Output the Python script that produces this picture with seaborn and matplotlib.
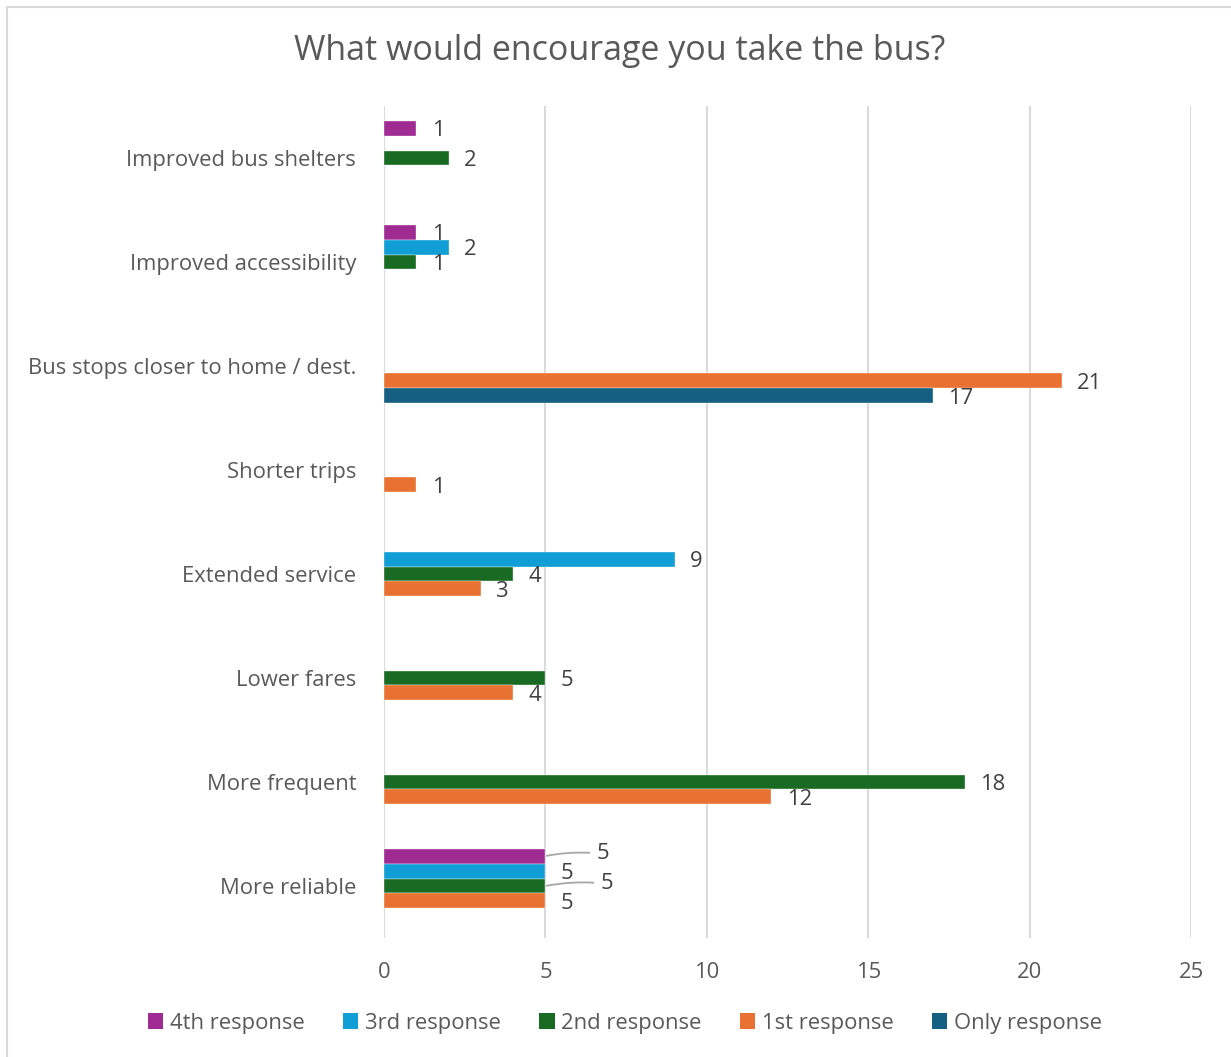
import matplotlib
matplotlib.use("Agg")
import matplotlib.pyplot as plt
from matplotlib.patches import Patch
from matplotlib.lines import Line2D
import seaborn as sns
import pandas as pd
import numpy as np

categories = ["Improved bus shelters", "Improved accessibility",
              "Bus stops closer to home / dest.", "Shorter trips",
              "Extended service", "Lower fares", "More frequent", "More reliable"]
series = ["4th response", "3rd response", "2nd response", "1st response", "Only response"]
colors = ["#A02B93", "#0F9ED5", "#196B24", "#E97132", "#156082"]

# values per series, aligned with categories (None = no bar)
v4th  = [1, 1, None, None, None, None, None, 5]
v3rd  = [None, 2, None, None, 9, None, None, 5]
v2nd  = [2, 1, None, None, 4, 5, 18, 5]
v1st  = [None, None, 21, 1, 3, 4, 12, 5]
vonly = [None, None, 17, None, None, None, None, None]

rows = []
for s, vals in zip(series, [v4th, v3rd, v2nd, v1st, vonly]):
    for c, v in zip(categories, vals):
        if v is not None:
            rows.append({"category": c, "series": s, "value": v})
df = pd.DataFrame(rows)

sns.set_theme(style="white")
plt.rcParams["font.family"] = ["Open Sans", "DejaVu Sans"]
TXT = "#595959"
FS = 15.8

fig = plt.figure(figsize=(12.31, 10.57), dpi=100)
ax = fig.add_axes([384/1231, 1-938/1057, (1191-384)/1231, (938-106)/1057])

sns.barplot(data=df, y="category", x="value", hue="series", order=categories,
            hue_order=series, palette=colors, orient="h", width=0.72,
            dodge=True, ax=ax, legend=False, saturation=1,
            edgecolor="white", linewidth=0.25, err_kws={"linewidth": 0})

ax.set_xlim(0, 25)
ax.set_ylim(len(categories) - 0.5, -0.5)
ax.set_xticks([0, 5, 10, 15, 20, 25])
ax.xaxis.grid(True, color="#D9D9D9", linewidth=1.4)
ax.set_axisbelow(True)
for sp in ax.spines.values():
    sp.set_visible(False)
ax.tick_params(axis="both", length=0, labelsize=FS, labelcolor=TXT)
ax.tick_params(axis="y", pad=20)
ax.tick_params(axis="x", pad=17)
ax.set_xlabel("")
ax.set_ylabel("")

# data labels
last_cat = len(categories) - 1
for si, cont in enumerate(ax.containers):
    sname = series[si]
    for bar in cont:
        w = bar.get_width()
        if not np.isfinite(w) or w == 0:
            continue
        yc = bar.get_y() + bar.get_height() / 2
        cat_idx = int(round(yc))
        label = f"{w:g}"
        if cat_idx == last_cat and sname in ("4th response", "2nd response"):
            dx = 37 if sname == "4th response" else 40
            ax.annotate(label, xy=(w, yc), xytext=(dx, 1.5), textcoords="offset points",
                        ha="left", va="center", fontsize=FS, color="#404040",
                        arrowprops=dict(arrowstyle="-", color="#A6A6A6", lw=1.3,
                                        shrinkA=3, shrinkB=1,
                                        connectionstyle="arc3,rad=0.08"))
        else:
            ax.annotate(label, xy=(w, yc), xytext=(11, -1.5), textcoords="offset points",
                        ha="left", va="center", fontsize=FS, color="#404040")

fig.text(620/1231, 1-51/1057, "What would encourage you take the bus?",
         ha="center", va="center", fontsize=24.5, color=TXT)

handles = [Patch(facecolor=c, edgecolor="none", label=s) for s, c in zip(series, colors)]
leg = fig.legend(handles=handles, loc="center", bbox_to_anchor=(625/1231, 1-1023/1057),
                 ncol=5, frameon=False, fontsize=FS, handlelength=0.7, handleheight=0.7,
                 handletextpad=0.3, columnspacing=1.75)
for t in leg.get_texts():
    t.set_color(TXT)

# chart-area border (left and top visible)
fig.add_artist(Line2D([7/1231, 7/1231], [0, 1-7/1057], transform=fig.transFigure,
                      color="#D9D9D9", lw=1.5))
fig.add_artist(Line2D([7/1231, 1], [1-7/1057, 1-7/1057], transform=fig.transFigure,
                      color="#D9D9D9", lw=1.5))

fig.savefig("out.png", dpi=100, facecolor="white")
